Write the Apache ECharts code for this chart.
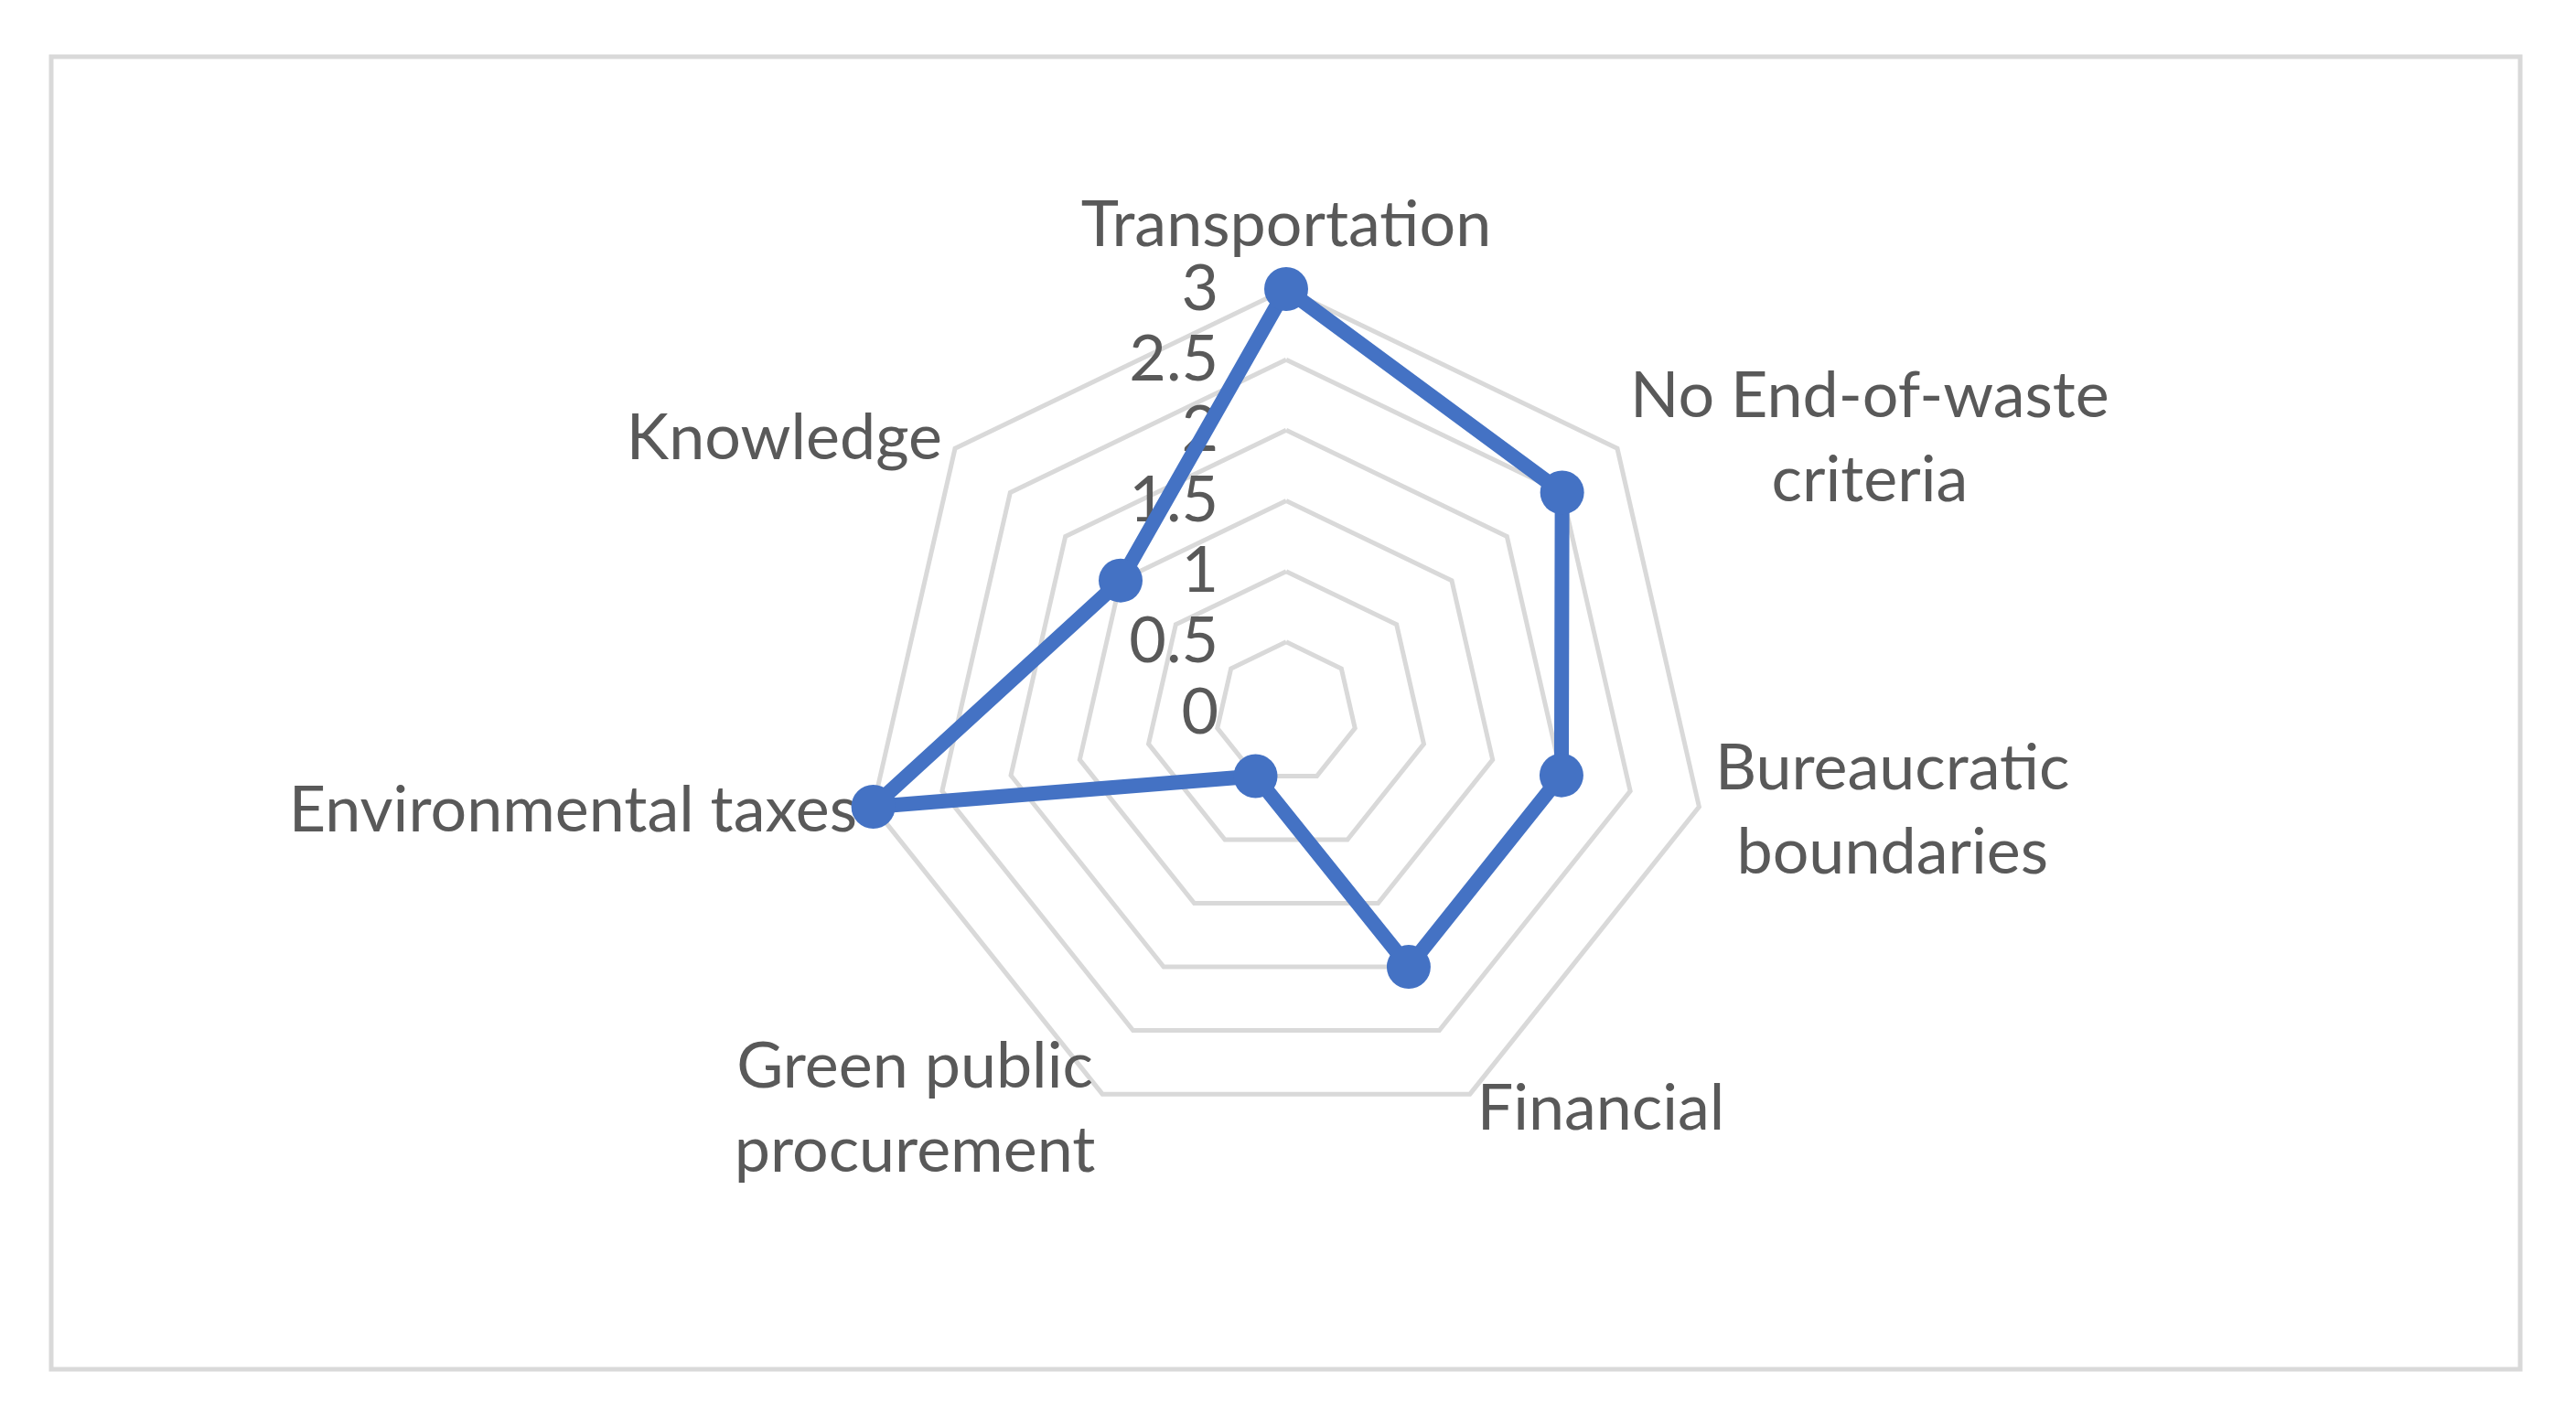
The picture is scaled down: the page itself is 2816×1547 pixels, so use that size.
<!DOCTYPE html>
<html>
<head>
<meta charset="UTF-8">
<title>Barriers radar</title>
<script src="https://cdn.jsdelivr.net/npm/echarts@6/dist/echarts.min.js"></script>
<style>
  html, body { margin: 0; padding: 0; background: #fff; }
  #main { width: 2816px; height: 1547px; }
</style>
</head>
<body>
<div id="main"></div>
<script>
// categories in the order they appear clockwise from the top
var categories = ['Transportation', 'No End-of-waste\ncriteria', 'Bureaucratic\nboundaries',
                  'Financial', 'Green public\nprocurement', 'Environmental taxes', 'Knowledge'];
var values = [3, 2.5, 2, 2, 0.5, 3, 1.5];
var axisMin = 0;
var axisMax = 3;
var axisStep = 0.5;

// echarts draws radar axes counter-clockwise, so walk the list backwards after the first one
var order = [0];
for (var i = categories.length - 1; i > 0; i--) order.push(i);

var indicator = order.map(function (k, n) {
    var ind = { name: categories[k], min: axisMin, max: axisMax };
    if (n > 0) ind.axisLabel = { show: false };
    return ind;
});
var seriesValues = order.map(function (k) { return values[k]; });

var textColor = '#595959';
var font = 'Lato';
var fontSize = 70;

var chart = echarts.init(document.getElementById('main'));
chart.setOption({
    backgroundColor: '#fff',
    animation: false,
    graphic: [{
        type: 'rect',
        shape: { x: 56, y: 62, width: 2699, height: 1435 },
        style: { fill: 'none', stroke: '#d9d9d9', lineWidth: 5 },
        z: -1
    }],
    radar: {
        center: [1406, 779],
        radius: 463,
        startAngle: 90,
        shape: 'polygon',
        splitNumber: (axisMax - axisMin) / axisStep,
        nameGap: 18,
        axisName: {
            color: textColor,
            fontFamily: font,
            fontSize: fontSize,
            formatter: function (name) {
                return name.split('\n').map(function (s) { return '{a|' + s + '}'; }).join('\n');
            },
            rich: {
                a: { color: textColor, fontFamily: font, fontSize: fontSize, lineHeight: 92, align: 'center' }
            }
        },
        axisLine: { show: false },
        axisTick: { show: false },
        axisLabel: {
            show: true,
            color: textColor,
            fontFamily: font,
            fontSize: fontSize,
            margin: 74
        },
        splitLine: { lineStyle: { color: '#d9d9d9', width: 5 } },
        splitArea: { show: false },
        indicator: indicator
    },
    series: [{
        type: 'radar',
        symbol: 'circle',
        symbolSize: 48,
        lineStyle: { color: '#4472c4', width: 16 },
        itemStyle: { color: '#4472c4' },
        data: [{ value: seriesValues, name: 'Barriers' }]
    }]
});
</script>
</body>
</html>
